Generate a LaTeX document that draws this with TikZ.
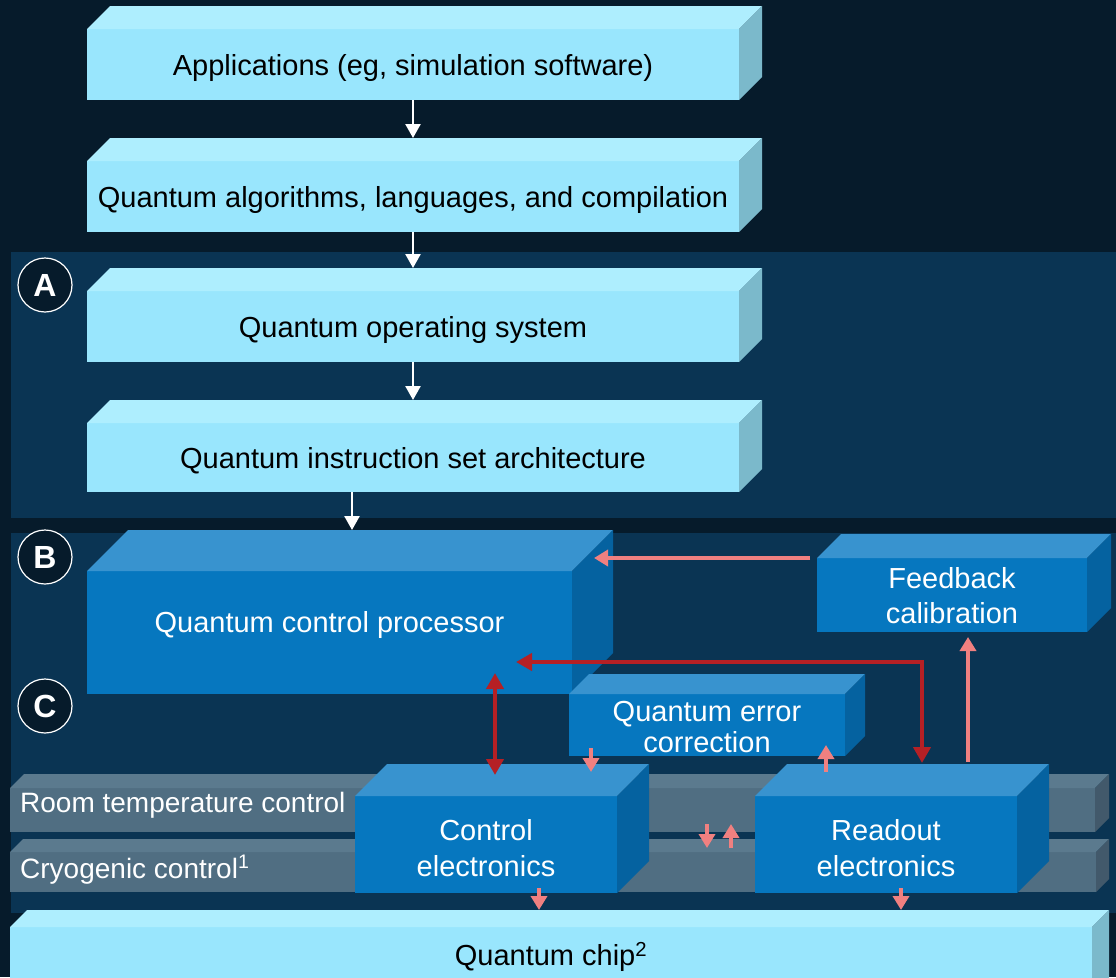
\documentclass[tikz,border=0pt]{standalone}
\usepackage{fontspec}
\setmainfont{Liberation Sans}
\usetikzlibrary{arrows.meta,calc}
\definecolor{bgdark}{HTML}{061B2B}
\definecolor{panel}{HTML}{0A3453}
\definecolor{lightfront}{HTML}{99E6FD}
\definecolor{lighttop}{HTML}{AEEEFE}
\definecolor{lightside}{HTML}{7BB9CB}
\definecolor{bluefront}{HTML}{0677BF}
\definecolor{bluetop}{HTML}{3893CF}
\definecolor{blueside}{HTML}{0562A0}
\definecolor{barfront}{HTML}{506E82}
\definecolor{bartop}{HTML}{5B7A8E}
\definecolor{barside}{HTML}{42596B}
\definecolor{pinkarrow}{HTML}{F08080}
\definecolor{redarrow}{HTML}{B52025}
\tikzset{
  face/.style={inner sep=0pt, outer sep=0pt, align=center, text height=21pt, text depth=0pt, font=\fontsize{29}{35}\selectfont},
  darktext/.style={text=black},
  lighttext/.style={text=white},
  warrow/.style={draw=white, line width=2.5pt, -{Triangle[width=15pt,length=14pt]}},
  parrow/.style={draw=pinkarrow, line width=4pt, -{Triangle[width=16pt,length=14pt]}},
  rdarrow/.style={draw=redarrow, line width=4pt, {Triangle[width=17pt,length=16pt]}-{Triangle[width=17pt,length=16pt]}},
  letter/.style={circle, draw=white, line width=1.2pt, fill=bgdark, minimum size=54pt, inner sep=0pt, text=white, font=\fontsize{32}{32}\selectfont\bfseries},
  bartext/.style={text=white, inner sep=0pt, anchor=west, text height=20pt, text depth=0pt, font=\fontsize{28}{34}\selectfont},
}
% #1 name, #2 x, #3 y, #4 w, #5 h, #6 depth, #7 scheme, #8 options, #9 text
\newcommand{\qcuboid}[9]{%
  \node[face, fill=#7front, minimum width=#4pt, minimum height=#5pt, anchor=north west, #8] (#1) at (#2,#3) {#9};
  \fill[#7top] (#1.north west) -- ++(#6,-#6) -- ++(#4,0) -- (#1.north east) -- cycle;
  \fill[#7side] (#1.north east) -- ++(#6,-#6) -- ++(0,#5) -- (#1.south east) -- cycle;
  \coordinate (#1-tn) at ($(#1.north)+(0,-#6)$);
}
\begin{document}
\begin{tikzpicture}[x=1pt,y=-1pt]
\useasboundingbox (0,0) rectangle (1116,977);
\clip (0,0) rectangle (1116,977);
\fill[bgdark] (0,0) rectangle (1116,977);
% panels
\fill[panel] (11,252) rectangle (1116,518);
\fill[panel] (11,533) rectangle (1116,913);
% temperature bars
\qcuboid{room}{10}{788}{1085}{44}{14}{bar}{}{}
\qcuboid{cryo}{10}{852}{1086}{40}{13}{bar}{}{}
\node[bartext] (roomt) at (20,802) {Room temperature control};
\node[bartext] (cryot) at (20,868) {Cryogenic control\textsuperscript{1}};
% quantum chip
\qcuboid{chip}{10}{927}{1082}{70}{17}{light}{}{}
\node[face, darktext] (chipt) at (551,955) {Quantum chip\textsuperscript{2}};
% electronics
\qcuboid{ctrl}{355}{796}{262}{97}{32}{blue}{lighttext, text height=63pt, font=\fontsize{29}{36}\selectfont}{Control\\electronics}
\qcuboid{ro}{755}{796}{262}{97}{32}{blue}{lighttext, text height=63pt, font=\fontsize{29}{36}\selectfont}{Readout\\electronics}
% control processor, QEC, feedback
\qcuboid{qcp}{87}{571}{485}{123}{41}{blue}{lighttext, text depth=21pt}{Quantum control processor}
\qcuboid{qec}{569}{694}{276}{62}{20}{blue}{lighttext, text height=55pt, font=\fontsize{29}{31}\selectfont}{Quantum error\\correction}
\qcuboid{fb}{817}{558}{270}{74}{24}{blue}{lighttext, text height=57pt}{Feedback\\calibration}
% software stack
\qcuboid{app}{87}{29}{652}{71}{23}{light}{darktext}{Applications (eg, simulation software)}
\qcuboid{alg}{87}{161}{652}{71}{23}{light}{darktext}{Quantum algorithms, languages, and compilation}
\qcuboid{qos}{87}{291}{652}{71}{23}{light}{darktext}{Quantum operating system}
\qcuboid{qisa}{87}{423}{652}{69}{23}{light}{darktext}{Quantum instruction set architecture}
% letters
\node[letter] (lA) at (45,285) {A};
\node[letter] (lB) at (45,557) {B};
\node[letter] (lC) at (45,706) {C};
% white arrows
\draw[warrow] (app.south) -- (alg-tn);
\draw[warrow] (alg.south) -- (qos-tn);
\draw[warrow] (qos.south) -- (qisa-tn);
\coordinate (qisaout) at ($(qisa.south)+(-61,0)$);
\draw[warrow] (qisaout) -- (qisaout |- qcp-tn);
% feedback -> control processor
\coordinate (fbout) at ($(fb.north west)+(-7,0)$);
\coordinate (qcpin) at ($(qcp.north east)+(22,-13)$);
\draw[parrow] (fbout) -- (qcpin |- fbout);
% control processor <-> control electronics
\draw[rdarrow] ($(qcp.south west)+(408,-21)$) -- ($(ctrl.north west)+(140,-21)$);
% control processor <-> readout
\draw[rdarrow] ($(ro.north west)+(167,-33)$) |- ($(qcp.south west)+(429,-32)$);
% readout -> feedback
\draw[parrow] ($(ro.north west)+(213,-34)$) -- ($(fb.south west)+(151,5)$);
% QEC -> control electronics
\draw[parrow] ($(qec.south west)+(22,-8)$) -- ($(ctrl.north west)+(236,-24)$);
% readout -> QEC
\draw[parrow] ($(ro.north west)+(71,-24)$) -- ($(qec.south west)+(257,-11)$);
% room <-> cryo small arrows
\coordinate (dn) at ($(ctrl.north east)+(90,28)$);
\coordinate (up) at ($(ctrl.north east)+(114,52)$);
\draw[parrow] (dn) -- ++(0,24);
\draw[parrow] (up) -- ++(0,-24);
% electronics -> chip
\draw[parrow] ($(ctrl.south west)+(184,-5)$) -- ($(chip.north west)+(529,-17)$);
\draw[parrow] ($(ro.south west)+(146,-5)$) -- ($(chip.north west)+(891,-17)$);
\end{tikzpicture}
\end{document}
